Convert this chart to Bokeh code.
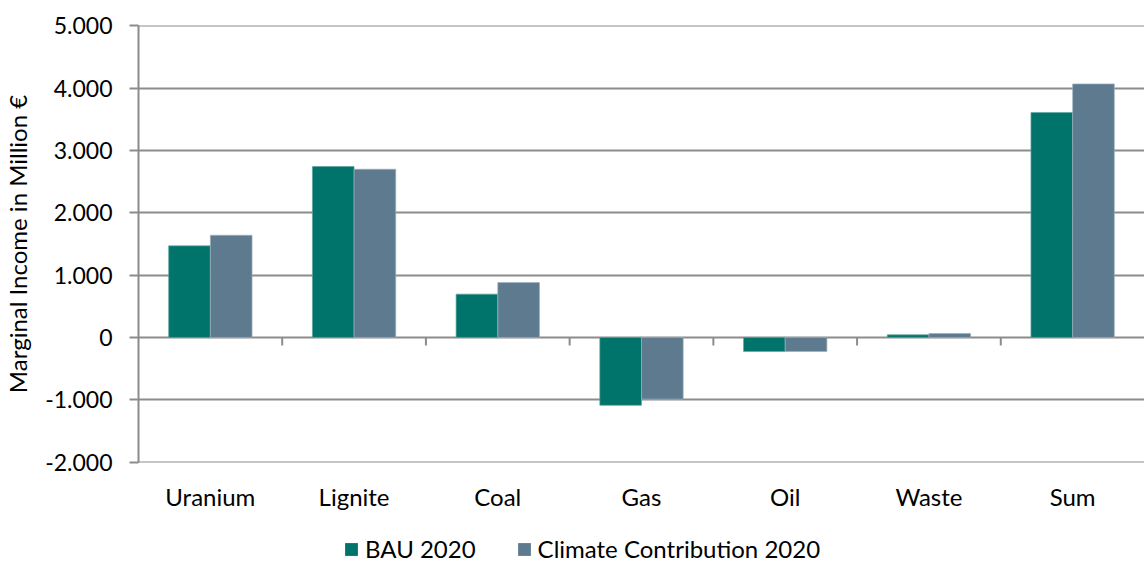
from bokeh.plotting import figure
from bokeh.layouts import column
from bokeh.models import Range1d, LinearAxis, FixedTicker, Legend, LegendItem, ColumnDataSource
from bokeh.embed import file_html
from bokeh.resources import INLINE
import numpy as np

categories = ["Uranium", "Lignite", "Coal", "Gas", "Oil", "Waste", "Sum"]
bau_2020 = [1470, 2745, 695, -1090, -225, 42, 3610]
climate_2020 = [1640, 2700, 880, -990, -225, 64, 4070]
series_names = ["BAU 2020", "Climate Contribution 2020"]
y_ticks = [-2000, -1000, 0, 1000, 2000, 3000, 4000, 5000]
y_tick_labels = ["-2.000", "-1.000", "0", "1.000", "2.000", "3.000", "4.000", "5.000"]

C_BAU = "#00736A"
C_CC = "#5E7A8E"
GRID = "#8c8c8c"
FONT = "Lato"

W = 1144
MAIN_H = 533
LEG_H = 30
FRAME_H = 437
PAD = 8
Y0, Y1 = -2000 - PAD, 5000 + PAD

n = len(categories)
centers = np.arange(n) + 0.5
bar_w = 0.29

src = ColumnDataSource(dict(
    x_bau=centers - bar_w / 2, x_cc=centers + bar_w / 2,
    bau=bau_2020, cc=climate_2020,
))

p = figure(width=W, height=MAIN_H, output_backend="svg", toolbar_location=None,
           x_range=Range1d(0, n), y_range=Range1d(Y0, Y1),
           x_axis_type=None,
           min_border_left=137, min_border_right=0, min_border_top=25,
           min_border_bottom=MAIN_H - 25 - FRAME_H)
p.outline_line_color = None
p.background_fill_color = "white"
p.border_fill_color = "white"

r1 = p.vbar(x="x_bau", top="bau", bottom=0, width=bar_w, source=src,
            fill_color=C_BAU, line_color="#5fa8a1", line_width=0.7)
r2 = p.vbar(x="x_cc", top="cc", bottom=0, width=bar_w, source=src,
            fill_color=C_CC, line_color="#9db0bd", line_width=0.7)

# boundary ticks below the zero line (8 px long)
bounds = np.arange(1, n)
tick_len = 8 * (Y1 - Y0) / FRAME_H
p.segment(x0=bounds, x1=bounds, y0=[0] * len(bounds), y1=[-tick_len] * len(bounds),
          line_color=GRID, line_width=2)

# y axis
p.yaxis.ticker = FixedTicker(ticks=y_ticks)
p.yaxis.major_label_overrides = {t: l for t, l in zip(y_ticks, y_tick_labels)}
p.yaxis.minor_tick_line_color = None
p.yaxis.major_tick_in = 0
p.yaxis.major_tick_out = 9
p.yaxis.major_tick_line_color = GRID
p.yaxis.major_tick_line_width = 2
p.yaxis.axis_line_color = GRID
p.yaxis.axis_line_width = 2
p.yaxis.major_label_text_font = FONT
p.yaxis.major_label_text_font_size = "23px"
p.yaxis.major_label_text_color = "black"
p.yaxis.major_label_standoff = 17
p.yaxis.axis_label = "Marginal Income in Million €"
p.yaxis.axis_label_text_font = FONT
p.yaxis.axis_label_text_font_style = "normal"
p.yaxis.axis_label_text_font_size = "24px"
p.yaxis.axis_label_text_color = "black"
p.yaxis.axis_label_standoff = 10

p.ygrid.ticker = FixedTicker(ticks=y_ticks)
p.ygrid.grid_line_color = GRID
p.ygrid.grid_line_width = 2

# category label axis
label_axis = LinearAxis(ticker=FixedTicker(ticks=list(centers)),
                        major_label_overrides={float(c): name for c, name in zip(centers, categories)},
                        major_tick_in=0, major_tick_out=0, minor_tick_line_color=None,
                        axis_line_color=None, major_label_standoff=19,
                        major_label_text_font=FONT, major_label_text_font_size="24px",
                        major_label_text_color="black")
p.add_layout(label_axis, "below")

# legend strip below the chart (frame aligned with the main frame by the column layout)
q = figure(width=W, height=LEG_H, output_backend="svg", toolbar_location=None,
           x_range=Range1d(0, 1), y_range=Range1d(0, 1),
           x_axis_type=None, y_axis_type=None,
           min_border_left=0, min_border_right=0, min_border_top=0, min_border_bottom=0)
q.outline_line_color = None
q.xgrid.visible = False
q.ygrid.visible = False
q.border_fill_color = "white"
l1 = q.vbar(x=[-5], top=[0], bottom=[0], width=0.1, fill_color=C_BAU, line_color=None)
l2 = q.vbar(x=[-5], top=[0], bottom=[0], width=0.1, fill_color=C_CC, line_color=None)
legend = Legend(items=[LegendItem(label=series_names[0], renderers=[l1]),
                       LegendItem(label=series_names[1], renderers=[l2])],
                orientation="horizontal", location=(205, 0),
                border_line_color=None, background_fill_alpha=0,
                glyph_width=16, glyph_height=16, label_text_font=FONT,
                label_text_font_size="24px", label_text_color="black",
                label_standoff=6, spacing=40,
                padding=0, margin=0)
q.add_layout(legend, "center")

layout = column(p, q, spacing=0)
open("out.html", "w").write(file_html(layout, INLINE))
